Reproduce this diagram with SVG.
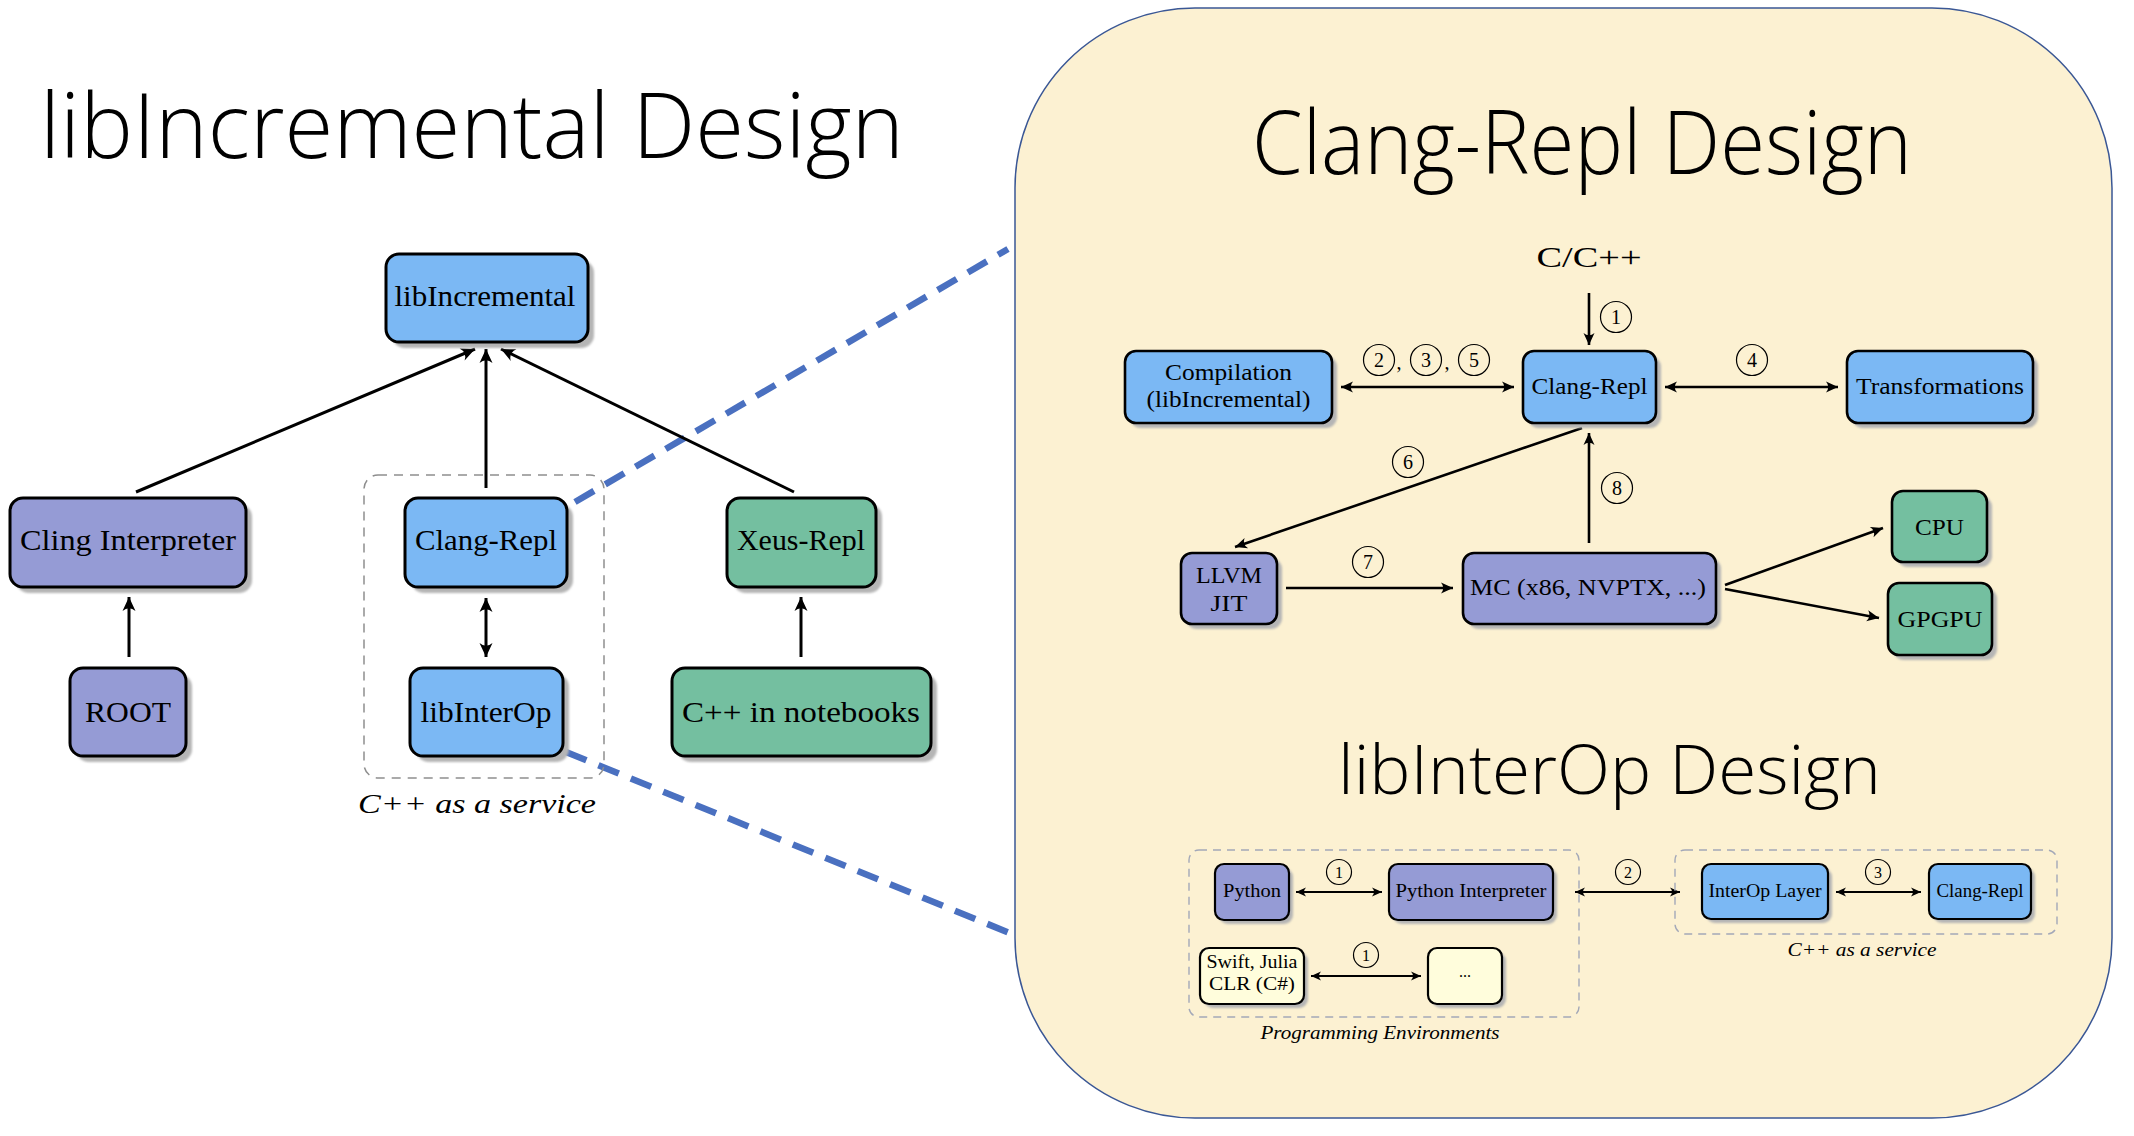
<svg xmlns="http://www.w3.org/2000/svg" width="2134" height="1136" viewBox="0 0 2134 1136">
<style>
.title{font-family:"Open Sans","Noto Sans",sans-serif;font-weight:350;fill:#000}
.t{font-family:"Liberation Serif","DejaVu Serif",serif;fill:#000;text-anchor:middle}
.it{font-style:italic}
.box{stroke:#000}
.big{stroke-width:3}
.mid{stroke-width:2.6}
.sm{stroke-width:2.2}
.shadow{fill:#b5b5b5;filter:url(#blur)}
.blue{fill:#7BB8F4}
.purple{fill:#959BD5}
.green{fill:#74BFA0}
.cream{fill:#FFFDDC}
.arrL{stroke:#000;fill:none;stroke-width:3}
.arr{stroke:#000;fill:none;stroke-width:2.6}
.arrs{stroke:#000;fill:none;stroke-width:2}
.zoomline{stroke:#4A70C0;stroke-width:6.5;fill:none;stroke-dasharray:22 13}
.grp{fill:none;stroke:#8e8e8e;stroke-width:1.5;stroke-dasharray:9 7}
.grp2{fill:none;stroke:#a3a8b8;stroke-width:1.4;stroke-dasharray:8 6}
.circ{fill:none;stroke:#000;stroke-width:1.2}
</style>
<defs>
<filter id="blur" x="-10%" y="-10%" width="130%" height="140%"><feGaussianBlur stdDeviation="1"/></filter>
<marker id="ahL" viewBox="-15 -8 16 16" refX="0" refY="0" markerWidth="16" markerHeight="16" markerUnits="userSpaceOnUse" orient="auto-start-reverse">
<path d="M0,0 L-14,-6.5 Q-8.5,0 -14,6.5 Z" fill="#000"/>
</marker>
<marker id="ah" viewBox="-13 -7 14 14" refX="0" refY="0" markerWidth="14" markerHeight="14" markerUnits="userSpaceOnUse" orient="auto-start-reverse">
<path d="M0,0 L-12,-5.5 Q-7.5,0 -12,5.5 Z" fill="#000"/>
</marker>
<marker id="ahs" viewBox="-11 -6 12 12" refX="0" refY="0" markerWidth="12" markerHeight="12" markerUnits="userSpaceOnUse" orient="auto-start-reverse">
<path d="M0,0 L-10,-4.5 Q-6,0 -10,4.5 Z" fill="#000"/>
</marker>
</defs>

<rect x="0" y="0" width="2134" height="1136" fill="#fff"/>

<!-- right panel -->
<rect id="panel" x="1015" y="8" width="1097" height="1110" rx="180" ry="180" fill="#FCF1D2" stroke="#3A5795" stroke-width="1.5"/>

<!-- titles -->
<text class="title" x="40" y="158" font-size="90" textLength="864" lengthAdjust="spacingAndGlyphs">libIncremental Design</text>
<text class="title" x="1252" y="174" font-size="88" textLength="660" lengthAdjust="spacingAndGlyphs">Clang-Repl Design</text>
<text class="title" x="1338" y="794" font-size="69" textLength="543" lengthAdjust="spacingAndGlyphs">libInterOp Design</text>

<!-- zoom lines -->
<g id="zoomlines">
<line class="zoomline" x1="575" y1="502" x2="1008" y2="249"/>
<line class="zoomline" x1="566" y1="752" x2="1017" y2="936"/>
</g>

<!-- left group box -->
<g id="cpp-service-left">
<rect class="grp" x="364" y="475" width="240" height="303" rx="14"/>
<text class="t it" x="477" y="813" font-size="28" textLength="238" lengthAdjust="spacingAndGlyphs">C++ as a service</text>
</g>

<!-- connectors -->
<g id="connectors">
<line class="arrL" x1="136" y1="492" x2="475" y2="349" marker-end="url(#ahL)"/>
<line class="arrL" x1="486" y1="488" x2="486" y2="349" marker-end="url(#ahL)"/>
<line class="arrL" x1="794" y1="492" x2="501" y2="349" marker-end="url(#ahL)"/>
<line class="arrL" x1="129" y1="657" x2="129" y2="597" marker-end="url(#ahL)"/>
<line class="arrL" x1="486" y1="598" x2="486" y2="657" marker-start="url(#ahL)" marker-end="url(#ahL)"/>
<line class="arrL" x1="801" y1="657" x2="801" y2="597" marker-end="url(#ahL)"/>

<line class="arr" x1="1589" y1="293" x2="1589" y2="345" marker-end="url(#ah)"/>
<line class="arr" x1="1341" y1="387" x2="1514" y2="387" marker-start="url(#ah)" marker-end="url(#ah)"/>
<line class="arr" x1="1665" y1="387" x2="1838" y2="387" marker-start="url(#ah)" marker-end="url(#ah)"/>
<line class="arr" x1="1582" y1="428" x2="1235" y2="547" marker-end="url(#ah)"/>
<line class="arr" x1="1286" y1="588" x2="1453" y2="588" marker-end="url(#ah)"/>
<line class="arr" x1="1589" y1="543" x2="1589" y2="433" marker-end="url(#ah)"/>
<line class="arr" x1="1725" y1="585" x2="1883" y2="528" marker-end="url(#ah)"/>
<line class="arr" x1="1725" y1="589" x2="1879" y2="618" marker-end="url(#ah)"/>

<line class="arrs" x1="1296" y1="892" x2="1382" y2="892" marker-start="url(#ahs)" marker-end="url(#ahs)"/>
<line class="arrs" x1="1311" y1="976" x2="1421" y2="976" marker-start="url(#ahs)" marker-end="url(#ahs)"/>
<line class="arrs" x1="1575" y1="892" x2="1680" y2="892" marker-start="url(#ahs)" marker-end="url(#ahs)"/>
<line class="arrs" x1="1836" y1="892" x2="1921" y2="892" marker-start="url(#ahs)" marker-end="url(#ahs)"/>
</g>

<!-- connector labels -->
<g id="labels">
<text class="t" x="1589" y="267" font-size="30" textLength="105" lengthAdjust="spacingAndGlyphs">C/C++</text>
<circle class="circ" cx="1616" cy="317" r="15.5"/><text class="t" x="1616" y="324" font-size="20">1</text>
<circle class="circ" cx="1379" cy="360" r="15.5"/><text class="t" x="1379" y="367" font-size="20">2</text>
<text class="t" x="1399" y="369" font-size="20">,</text>
<circle class="circ" cx="1426" cy="360" r="15.5"/><text class="t" x="1426" y="367" font-size="20">3</text>
<text class="t" x="1447" y="369" font-size="20">,</text>
<circle class="circ" cx="1474" cy="360" r="15.5"/><text class="t" x="1474" y="367" font-size="20">5</text>
<circle class="circ" cx="1752" cy="360" r="15.5"/><text class="t" x="1752" y="367" font-size="20">4</text>
<circle class="circ" cx="1408" cy="462" r="15.5"/><text class="t" x="1408" y="469" font-size="20">6</text>
<circle class="circ" cx="1368" cy="562" r="15.5"/><text class="t" x="1368" y="569" font-size="20">7</text>
<circle class="circ" cx="1617" cy="488" r="15.5"/><text class="t" x="1617" y="495" font-size="20">8</text>

<circle class="circ" cx="1339" cy="872" r="12.5"/><text class="t" x="1339" y="877.5" font-size="16">1</text>
<circle class="circ" cx="1366" cy="955" r="12.5"/><text class="t" x="1366" y="960.5" font-size="16">1</text>
<circle class="circ" cx="1628" cy="872" r="12.5"/><text class="t" x="1628" y="877.5" font-size="16">2</text>
<circle class="circ" cx="1878" cy="872" r="12.5"/><text class="t" x="1878" y="877.5" font-size="16">3</text>
</g>

<!-- left nodes -->
<g id="n-libincremental">
<rect class="shadow" x="392" y="260" width="202" height="88" rx="13"/>
<rect class="box big blue" x="386" y="254" width="202" height="88" rx="13"/>
<text class="t" x="485" y="306" font-size="29" textLength="181" lengthAdjust="spacingAndGlyphs">libIncremental</text>
</g>
<g id="n-cling">
<rect class="shadow" x="16" y="504" width="236" height="89" rx="13"/>
<rect class="box big purple" x="10" y="498" width="236" height="89" rx="13"/>
<text class="t" x="128" y="550" font-size="29" textLength="216" lengthAdjust="spacingAndGlyphs">Cling Interpreter</text>
</g>
<g id="n-clangrepl-left">
<rect class="shadow" x="411" y="504" width="162" height="89" rx="13"/>
<rect class="box big blue" x="405" y="498" width="162" height="89" rx="13"/>
<text class="t" x="486" y="550" font-size="29" textLength="142" lengthAdjust="spacingAndGlyphs">Clang-Repl</text>
</g>
<g id="n-xeus">
<rect class="shadow" x="733" y="504" width="149" height="89" rx="13"/>
<rect class="box big green" x="727" y="498" width="149" height="89" rx="13"/>
<text class="t" x="801" y="550" font-size="29" textLength="128" lengthAdjust="spacingAndGlyphs">Xeus-Repl</text>
</g>
<g id="n-root">
<rect class="shadow" x="76" y="674" width="116" height="88" rx="13"/>
<rect class="box big purple" x="70" y="668" width="116" height="88" rx="13"/>
<text class="t" x="128" y="722" font-size="29" textLength="86" lengthAdjust="spacingAndGlyphs">ROOT</text>
</g>
<g id="n-libinterop-left">
<rect class="shadow" x="416" y="674" width="153" height="88" rx="13"/>
<rect class="box big blue" x="410" y="668" width="153" height="88" rx="13"/>
<text class="t" x="486" y="722" font-size="29" textLength="131" lengthAdjust="spacingAndGlyphs">libInterOp</text>
</g>
<g id="n-notebooks">
<rect class="shadow" x="678" y="674" width="259" height="88" rx="13"/>
<rect class="box big green" x="672" y="668" width="259" height="88" rx="13"/>
<text class="t" x="801" y="722" font-size="29" textLength="238" lengthAdjust="spacingAndGlyphs">C++ in notebooks</text>
</g>

<!-- Clang-Repl design nodes -->
<g id="n-compilation">
<rect class="shadow" x="1130" y="356" width="207" height="72" rx="11"/>
<rect class="box mid blue" x="1125" y="351" width="207" height="72" rx="11"/>
<text class="t" x="1228.5" y="380" font-size="23" textLength="127" lengthAdjust="spacingAndGlyphs">Compilation</text>
<text class="t" x="1228.5" y="407" font-size="23" textLength="164" lengthAdjust="spacingAndGlyphs">(libIncremental)</text>
</g>
<g id="n-clangrepl">
<rect class="shadow" x="1528" y="356" width="133" height="72" rx="11"/>
<rect class="box mid blue" x="1523" y="351" width="133" height="72" rx="11"/>
<text class="t" x="1589.5" y="394" font-size="23" textLength="116" lengthAdjust="spacingAndGlyphs">Clang-Repl</text>
</g>
<g id="n-transformations">
<rect class="shadow" x="1852" y="356" width="186" height="72" rx="11"/>
<rect class="box mid blue" x="1847" y="351" width="186" height="72" rx="11"/>
<text class="t" x="1940" y="394" font-size="23" textLength="168" lengthAdjust="spacingAndGlyphs">Transformations</text>
</g>
<g id="n-llvmjit">
<rect class="shadow" x="1186" y="558" width="96" height="71" rx="11"/>
<rect class="box mid purple" x="1181" y="553" width="96" height="71" rx="11"/>
<text class="t" x="1229" y="583" font-size="23" textLength="66" lengthAdjust="spacingAndGlyphs">LLVM</text>
<text class="t" x="1229" y="611" font-size="23" textLength="37" lengthAdjust="spacingAndGlyphs">JIT</text>
</g>
<g id="n-mc">
<rect class="shadow" x="1468" y="558" width="253" height="71" rx="11"/>
<rect class="box mid purple" x="1463" y="553" width="253" height="71" rx="11"/>
<text class="t" x="1588" y="595" font-size="23" textLength="236" lengthAdjust="spacingAndGlyphs">MC (x86, NVPTX, ...)</text>
</g>
<g id="n-cpu">
<rect class="shadow" x="1897" y="496" width="95" height="71" rx="11"/>
<rect class="box mid green" x="1892" y="491" width="95" height="71" rx="11"/>
<text class="t" x="1939.5" y="535" font-size="23" textLength="49" lengthAdjust="spacingAndGlyphs">CPU</text>
</g>
<g id="n-gpgpu">
<rect class="shadow" x="1893" y="588" width="104" height="72" rx="11"/>
<rect class="box mid green" x="1888" y="583" width="104" height="72" rx="11"/>
<text class="t" x="1940" y="627" font-size="23" textLength="85" lengthAdjust="spacingAndGlyphs">GPGPU</text>
</g>

<!-- libInterOp design -->
<g id="g-progenv">
<rect class="grp2" x="1189" y="850" width="390" height="167" rx="10"/>
<text class="t it" x="1380" y="1039" font-size="19" textLength="239" lengthAdjust="spacingAndGlyphs">Programming Environments</text>
</g>
<g id="g-cppservice-right">
<rect class="grp2" x="1675" y="850" width="382" height="84" rx="10"/>
<text class="t it" x="1862" y="956" font-size="18" textLength="149" lengthAdjust="spacingAndGlyphs">C++ as a service</text>
</g>
<g id="n-python">
<rect class="shadow" x="1219" y="868" width="74" height="56" rx="9"/>
<rect class="box sm purple" x="1215" y="864" width="74" height="56" rx="9"/>
<text class="t" x="1252" y="897" font-size="19" textLength="58" lengthAdjust="spacingAndGlyphs">Python</text>
</g>
<g id="n-pyinterp">
<rect class="shadow" x="1393" y="868" width="164" height="56" rx="9"/>
<rect class="box sm purple" x="1389" y="864" width="164" height="56" rx="9"/>
<text class="t" x="1471" y="897" font-size="19" textLength="151" lengthAdjust="spacingAndGlyphs">Python Interpreter</text>
</g>
<g id="n-swift">
<rect class="shadow" x="1204" y="952" width="104" height="56" rx="9"/>
<rect class="box sm cream" x="1200" y="948" width="104" height="56" rx="9"/>
<text class="t" x="1252" y="968" font-size="18" textLength="91" lengthAdjust="spacingAndGlyphs">Swift, Julia</text>
<text class="t" x="1252" y="990" font-size="18" textLength="86" lengthAdjust="spacingAndGlyphs">CLR (C#)</text>
</g>
<g id="n-dots">
<rect class="shadow" x="1432" y="952" width="74" height="56" rx="9"/>
<rect class="box sm cream" x="1428" y="948" width="74" height="56" rx="9"/>
<text class="t" x="1465" y="977" font-size="16">...</text>
</g>
<g id="n-interoplayer">
<rect class="shadow" x="1706" y="868" width="126" height="55" rx="9"/>
<rect class="box sm blue" x="1702" y="864" width="126" height="55" rx="9"/>
<text class="t" x="1765" y="897" font-size="19" textLength="113" lengthAdjust="spacingAndGlyphs">InterOp Layer</text>
</g>
<g id="n-clangrepl-small">
<rect class="shadow" x="1933" y="868" width="102" height="55" rx="9"/>
<rect class="box sm blue" x="1929" y="864" width="102" height="55" rx="9"/>
<text class="t" x="1980" y="897" font-size="19" textLength="87" lengthAdjust="spacingAndGlyphs">Clang-Repl</text>
</g>
</svg>
